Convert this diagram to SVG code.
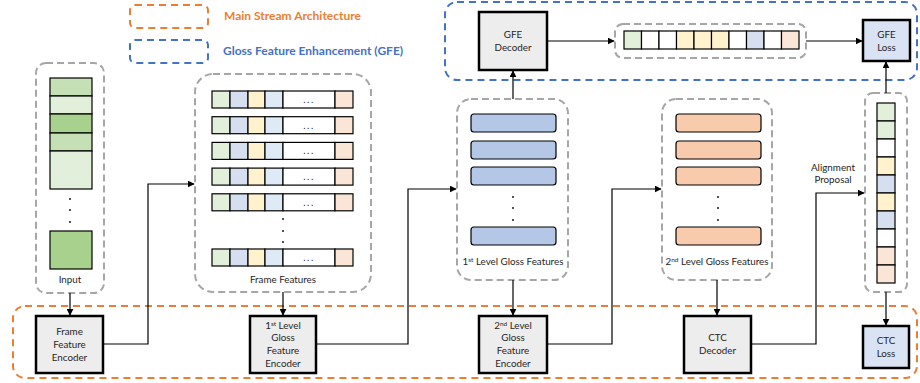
<svg xmlns="http://www.w3.org/2000/svg" width="920" height="383" viewBox="0 0 920 383">
<defs>
<marker id="ah" viewBox="0 0 10 10" refX="9" refY="5" markerWidth="7" markerHeight="7" markerUnits="userSpaceOnUse" orient="auto"><path d="M0,0 L10,5 L0,10 z" fill="#000"/></marker>
<style>
text{font-family:Lato,"Open Sans","Liberation Sans",sans-serif;fill:#262626;text-anchor:middle}
.t{font-size:9.8px}
.leg{font-size:12px;font-weight:bold;text-anchor:start}
.gray{fill:none;stroke:#a6a6a6;stroke-width:2;stroke-dasharray:7 4}
.org{fill:none;stroke:#ed7d31;stroke-width:2;stroke-dasharray:7 5}
.blu{fill:none;stroke:#4472c4;stroke-width:2;stroke-dasharray:7 5}
.box{fill:#ededed;stroke:#000;stroke-width:2.5}
.lbox{fill:#dae3f3;stroke:#000;stroke-width:2.5}
.c{stroke:#000;stroke-width:1.2}
.conn{fill:none;stroke:#000;stroke-width:1.2}
.g1{fill:#c5e0b4}.g2{fill:#e2efda}.g3{fill:#a9d18e}
.cg{fill:#e2efda}.cb{fill:#d6dff0}.cy{fill:#fff2cc}.cl{fill:#deebf7}.cw{fill:#fff}.cp{fill:#fbe5d6}
.bb{fill:#b4c7e7;stroke:#000;stroke-width:1.2}
.ob{fill:#f8cbad;stroke:#000;stroke-width:1.2}
.dot{fill:#000}
</style>
</defs>

<!-- legend -->
<g id="legend">
<rect class="org" x="130" y="5" width="78" height="23" rx="5"/>
<text class="leg" x="224" y="20" style="fill:#ed7d31">Main Stream Architecture</text>
<rect class="blu" x="130" y="40" width="78" height="23" rx="5"/>
<text class="leg" x="223" y="55" style="fill:#4472c4">Gloss Feature Enhancement (GFE)</text>
</g>

<!-- regions -->
<rect id="gfe-region" class="blu" x="445" y="2" width="472" height="78" rx="12"/>
<rect id="main-region" class="org" x="13" y="306" width="904" height="72" rx="12"/>

<!-- Input -->
<g id="input">
<rect class="gray" x="36" y="63" width="68" height="230" rx="10"/>
<rect class="g1 c" x="50" y="78" width="42" height="18"/>
<rect class="g2 c" x="50" y="96" width="42" height="18"/>
<rect class="g3 c" x="50" y="114" width="42" height="19"/>
<rect class="g1 c" x="50" y="133" width="42" height="18"/>
<rect class="g2 c" x="50" y="151" width="42" height="38"/>
<circle class="dot" cx="70" cy="199" r="0.9"/><circle class="dot" cx="70" cy="210" r="0.9"/><circle class="dot" cx="70" cy="222" r="0.9"/>
<rect class="g3 c" x="50" y="231" width="42" height="38"/>
<text class="t" x="70" y="283">Input</text>
</g>

<!-- Frame features -->
<g id="frame-features">
<rect class="gray" x="195" y="74" width="176" height="218" rx="18"/>
<g id="ffrow">
<rect class="cg c" x="212" y="91" width="18" height="17"/>
<rect class="cb c" x="230" y="91" width="18" height="17"/>
<rect class="cy c" x="248" y="91" width="17" height="17"/>
<rect class="cl c" x="265" y="91" width="18" height="17"/>
<rect class="cw c" x="283" y="91" width="52" height="17"/>
<rect class="cp c" x="335" y="91" width="18" height="17"/>
<text class="t" x="309" y="103" style="letter-spacing:1.5px">...</text>
</g>
<use href="#ffrow" y="25.7"/>
<use href="#ffrow" y="51.4"/>
<use href="#ffrow" y="77.1"/>
<use href="#ffrow" y="102.8"/>
<use href="#ffrow" y="158"/>
<circle class="dot" cx="283" cy="219" r="0.9"/><circle class="dot" cx="283" cy="231" r="0.9"/><circle class="dot" cx="283" cy="242" r="0.9"/>
<text class="t" x="283" y="283">Frame Features</text>
</g>

<!-- 1st level gloss features -->
<g id="gloss1">
<rect class="gray" x="457" y="99" width="111" height="181" rx="14"/>
<rect class="bb" x="471" y="114" width="85" height="18" rx="3"/>
<rect class="bb" x="471" y="141" width="85" height="18" rx="3"/>
<rect class="bb" x="471" y="167" width="85" height="18" rx="3"/>
<rect class="bb" x="471" y="227" width="85" height="18" rx="3"/>
<circle class="dot" cx="513" cy="197" r="0.9"/><circle class="dot" cx="513" cy="208" r="0.9"/><circle class="dot" cx="513" cy="220" r="0.9"/>
<text class="t" x="513" y="265">1<tspan font-size="6.5" dy="-3.5">st</tspan><tspan dy="3.5"> Level Gloss Features</tspan></text>
</g>

<!-- 2nd level gloss features -->
<g id="gloss2">
<rect class="gray" x="662" y="99" width="110" height="181" rx="14"/>
<rect class="ob" x="676" y="114" width="85" height="18" rx="3"/>
<rect class="ob" x="676" y="141" width="85" height="18" rx="3"/>
<rect class="ob" x="676" y="167" width="85" height="18" rx="3"/>
<rect class="ob" x="676" y="227" width="85" height="18" rx="3"/>
<circle class="dot" cx="718" cy="197" r="0.9"/><circle class="dot" cx="718" cy="208" r="0.9"/><circle class="dot" cx="718" cy="220" r="0.9"/>
<text class="t" x="717" y="265">2<tspan font-size="6.5" dy="-3.5">nd</tspan><tspan dy="3.5"> Level Gloss Features</tspan></text>
</g>

<!-- GFE sequence -->
<g id="gfe-seq">
<rect class="gray" x="615" y="24" width="191" height="34" rx="8"/>
<rect class="cg c" x="624" y="31" width="17.5" height="18"/>
<rect class="cw c" x="641.5" y="31" width="17.5" height="18"/>
<rect class="cw c" x="659" y="31" width="17.5" height="18"/>
<rect class="cy c" x="676.5" y="31" width="17.5" height="18"/>
<rect class="cy c" x="694" y="31" width="17.5" height="18"/>
<rect class="cy c" x="711.5" y="31" width="17.5" height="18"/>
<rect class="cw c" x="729" y="31" width="17.5" height="18"/>
<rect class="cb c" x="746.5" y="31" width="17.5" height="18"/>
<rect class="cw c" x="764" y="31" width="17.5" height="18"/>
<rect class="cp c" x="781.5" y="31" width="17.5" height="18"/>
</g>

<!-- Alignment column -->
<g id="alignment">
<rect class="gray" x="865" y="93" width="42" height="199" rx="8"/>
<rect class="cg c" x="877" y="103" width="18" height="18"/>
<rect class="cg c" x="877" y="121" width="18" height="18"/>
<rect class="cw c" x="877" y="139" width="18" height="18"/>
<rect class="cy c" x="877" y="157" width="18" height="18"/>
<rect class="cb c" x="877" y="175" width="18" height="18"/>
<rect class="cy c" x="877" y="193" width="18" height="18"/>
<rect class="cb c" x="877" y="211" width="18" height="18"/>
<rect class="cw c" x="877" y="229" width="18" height="18"/>
<rect class="cp c" x="877" y="247" width="18" height="18"/>
<rect class="cp c" x="877" y="265" width="18" height="18"/>
</g>

<!-- boxes -->
<g id="frame-encoder">
<rect class="box" x="36" y="316" width="67" height="57"/>
<text class="t" x="69.5" y="335">Frame</text>
<text class="t" x="69.5" y="348">Feature</text>
<text class="t" x="69.5" y="361">Encoder</text>
</g>
<g id="gloss1-encoder">
<rect class="box" x="250" y="316" width="66" height="57"/>
<text class="t" x="283" y="329">1<tspan font-size="6.5" dy="-3.5">st</tspan><tspan dy="3.5"> Level</tspan></text>
<text class="t" x="283" y="341">Gloss</text>
<text class="t" x="283" y="354">Feature</text>
<text class="t" x="283" y="367">Encoder</text>
</g>
<g id="gloss2-encoder">
<rect class="box" x="479" y="316" width="68" height="57"/>
<text class="t" x="513" y="329">2<tspan font-size="6.5" dy="-3.5">nd</tspan><tspan dy="3.5"> Level</tspan></text>
<text class="t" x="513" y="341">Gloss</text>
<text class="t" x="513" y="354">Feature</text>
<text class="t" x="513" y="367">Encoder</text>
</g>
<g id="ctc-decoder">
<rect class="box" x="684" y="316" width="67" height="57"/>
<text class="t" x="717.5" y="341">CTC</text>
<text class="t" x="717.5" y="354">Decoder</text>
</g>
<g id="ctc-loss">
<rect class="lbox" x="863" y="326" width="46" height="42"/>
<text class="t" x="886" y="344">CTC</text>
<text class="t" x="886" y="357">Loss</text>
</g>
<g id="gfe-decoder">
<rect class="box" x="479" y="12" width="68" height="58"/>
<text class="t" x="513" y="38">GFE</text>
<text class="t" x="513" y="51">Decoder</text>
</g>
<g id="gfe-loss">
<rect class="lbox" x="863" y="20" width="47" height="41"/>
<text class="t" x="886.5" y="38">GFE</text>
<text class="t" x="886.5" y="51">Loss</text>
</g>
<g id="alignment-label">
<text class="t" x="833" y="171">Alignment</text>
<text class="t" x="833" y="183">Proposal</text>
</g>

<!-- connectors -->
<g id="connectors">
<path class="conn" d="M70,293 V315" marker-end="url(#ah)"/>
<path class="conn" d="M103,344 H148 V184 H194" marker-end="url(#ah)"/>
<path class="conn" d="M283,292 V315" marker-end="url(#ah)"/>
<path class="conn" d="M316,344 H408 V189 H456" marker-end="url(#ah)"/>
<path class="conn" d="M513,280 V315" marker-end="url(#ah)"/>
<path class="conn" d="M513,99 V71" marker-end="url(#ah)"/>
<path class="conn" d="M547,344 H612 V189 H661" marker-end="url(#ah)"/>
<path class="conn" d="M717,280 V315" marker-end="url(#ah)"/>
<path class="conn" d="M751,344 H816 V193 H864" marker-end="url(#ah)"/>
<path class="conn" d="M886,292 V325" marker-end="url(#ah)"/>
<path class="conn" d="M886,93 V62" marker-end="url(#ah)"/>
<path class="conn" d="M547,41 H614" marker-end="url(#ah)"/>
<path class="conn" d="M806,41 H862" marker-end="url(#ah)"/>
</g>
</svg>
